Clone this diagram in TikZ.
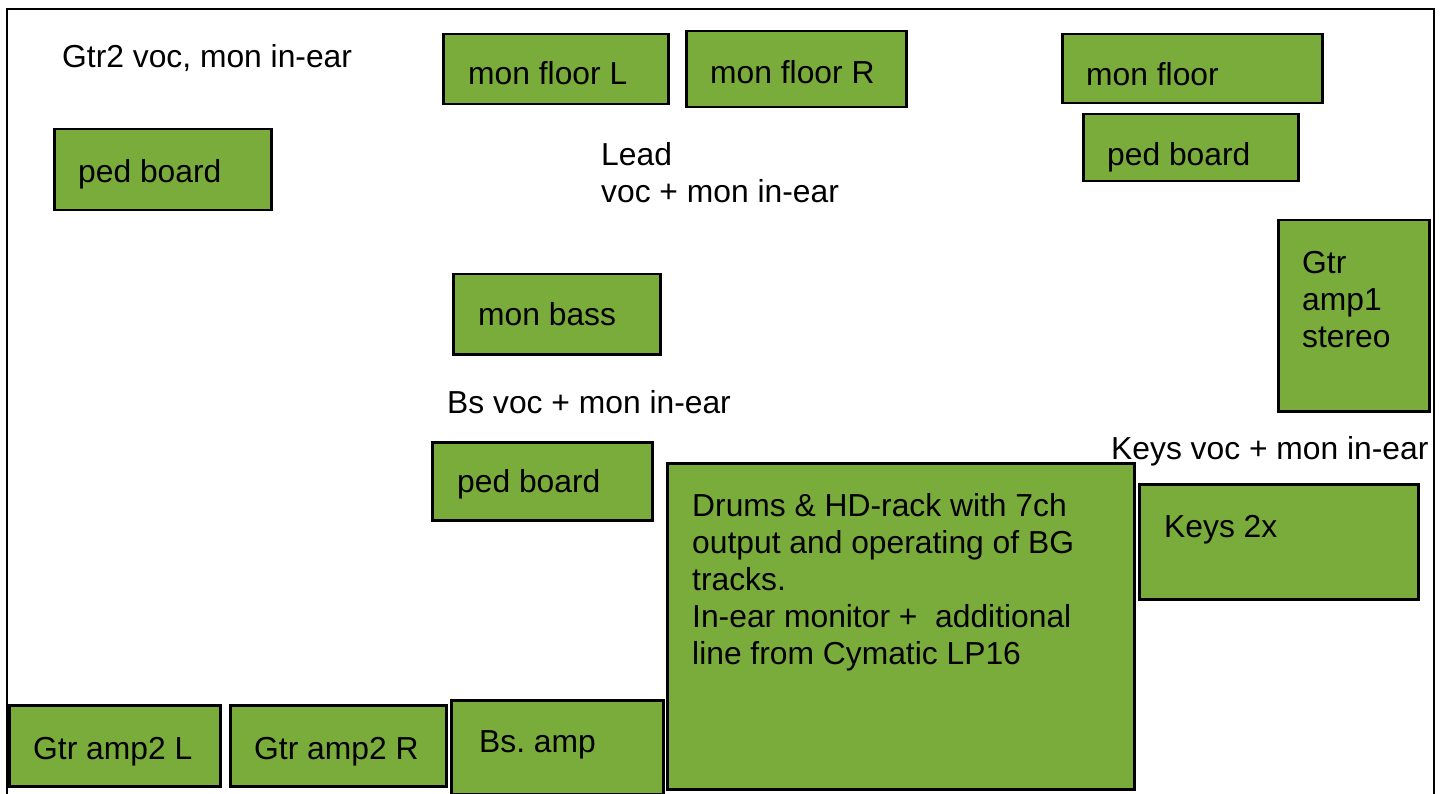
\documentclass[tikz,border=0pt]{standalone}
\usepackage{fontspec}
\setmainfont{Liberation Sans}
\definecolor{stagegreen}{RGB}{122,172,59}
\tikzset{
  gear/.style  = {draw=black, line width=2.5pt, fill=stagegreen,
                  inner sep=0pt, anchor=north west},
  tag/.style   = {anchor=base west, inner sep=0pt, align=left,
                  font=\fontsize{31.8}{37}\selectfont},
  frame/.style = {draw=black, line width=2pt}
}

\begin{document}
\begin{tikzpicture}[x=1pt, y=-1pt]

  \clip (0,0) rectangle (1445,794);
  \fill[white] (0,0) rectangle (1445,794);
  \draw[frame] (7,9) rectangle (1434,830);

  % Front line: amps
  \node[gear, minimum width=211pt, minimum height=81pt] (amp2L) at (8,704)   {};
  \node[gear, minimum width=216pt, minimum height=81pt] (amp2R) at (229,704) {};
  \node[gear, minimum width=212pt, minimum height=94pt] (bsAmp) at (450,699) {};

  % Drum riser and keys
  \node[gear, minimum width=467pt, minimum height=326pt] (drums) at (666,462)  {};
  \node[gear, minimum width=279pt, minimum height=115pt] (keys)  at (1138,483) {};

  % Bass position
  \node[gear, minimum width=207pt, minimum height=80pt] (monB) at (452,273) {};
  \node[gear, minimum width=220pt, minimum height=78pt] (pedM) at (431,441) {};

  % Guitar 2 position
  \node[gear, minimum width=217pt, minimum height=81pt] (pedL) at (53,128) {};

  % Lead vocal wedges
  \node[gear, minimum width=225pt, minimum height=70pt] (monFL) at (442,33) {};
  \node[gear, minimum width=220pt, minimum height=76pt] (monFR) at (685,30) {};

  % Guitar 1 position
  \node[gear, minimum width=260pt, minimum height=69pt]  (monF) at (1061,33)  {};
  \node[gear, minimum width=215pt, minimum height=67pt]  (pedR) at (1082,113) {};
  \node[gear, minimum width=151pt, minimum height=191pt] (amp1) at (1277,219) {};

  % Box texts (multi-line ones sit on their last baseline)
  \node[tag] (amp2Lt) at ([shift={(25,55)}]amp2L.north west) {Gtr amp2 L};
  \node[tag] (amp2Rt) at ([shift={(25,55)}]amp2R.north west) {Gtr amp2 R};
  \node[tag] (bsAmpt) at ([shift={(29,53)}]bsAmp.north west) {Bs.\ amp};
  \node[tag] (drumst) at ([shift={(26,202)}]drums.north west)
    {Drums \& HD-rack with 7ch\\output and operating of BG\\tracks.\\In-ear monitor + \ additional\\line from Cymatic LP16};
  \node[tag] (keyst)  at ([shift={(26,54)}]keys.north west)  {Keys 2x};
  \node[tag] (monBt)  at ([shift={(26,52)}]monB.north west)  {mon bass};
  \node[tag] (pedMt)  at ([shift={(26,51)}]pedM.north west)  {ped board};
  \node[tag] (pedLt)  at ([shift={(25,55)}]pedL.north west)  {ped board};
  \node[tag] (monFLt) at ([shift={(26,52)}]monFL.north west) {mon floor L};
  \node[tag] (monFRt) at ([shift={(25,54)}]monFR.north west) {mon floor R};
  \node[tag] (monFt)  at ([shift={(25,53)}]monF.north west)  {mon floor};
  \node[tag] (pedRt)  at ([shift={(25,53)}]pedR.north west)  {ped board};
  \node[tag] (amp1t)  at ([shift={(25,128)}]amp1.north west) {Gtr\\amp1\\stereo};

  % Vocal positions
  \node[tag] (gtr2Voc) at (62,68)    {Gtr2 voc, mon in-ear};
  \node[tag] (leadVoc) at (601,203)  {Lead\\voc + mon in-ear};
  \node[tag] (bsVoc)   at (447,413)  {Bs voc + mon in-ear};
  \node[tag] (keysVoc) at (1111,459) {Keys voc + mon in-ear};

\end{tikzpicture}
\end{document}
